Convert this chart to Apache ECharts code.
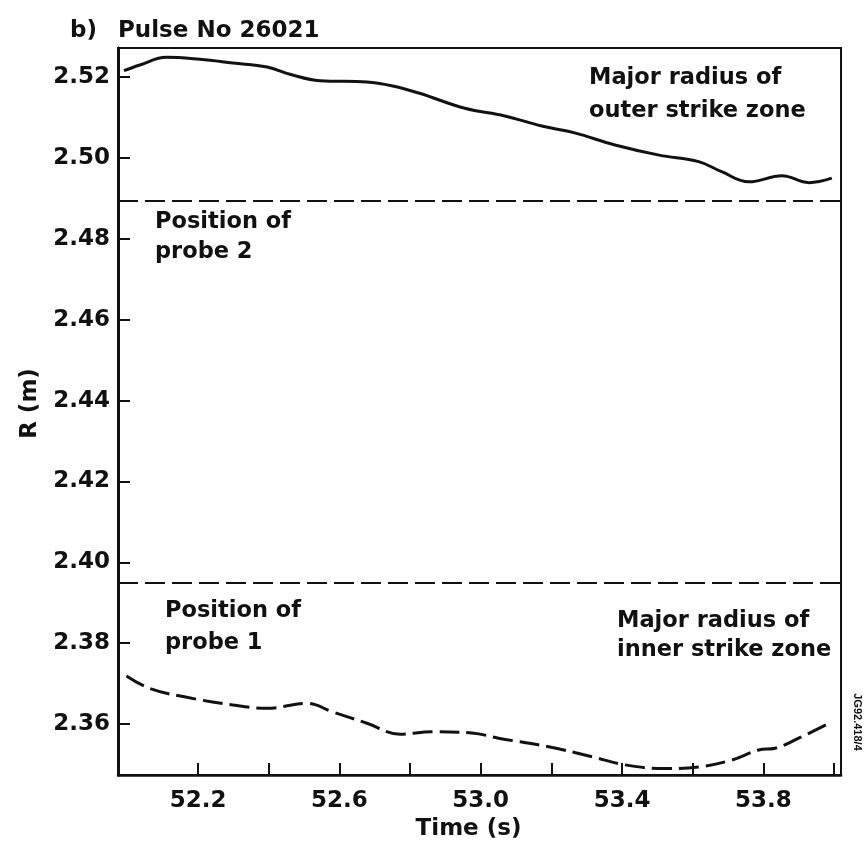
<!DOCTYPE html>
<html>
<head>
<meta charset="utf-8">
<title>Pulse No 26021 – strike zone radii</title>
<script src="https://cdn.jsdelivr.net/npm/echarts@6/dist/echarts.min.js"></script>
<style>
  html, body { margin: 0; padding: 0; background: #ffffff; }
  #chart { width: 864px; height: 849px; }
</style>
</head>
<body>
<div id="chart"></div>
<script>
// Major radius of the outer strike zone, R (m) against time (s)
const outerTime = [51.990, 52.035, 52.110, 52.205, 52.298, 52.395, 52.460, 52.545, 52.678, 52.751,
                   52.827, 52.955, 53.068, 53.173, 53.266, 53.380, 53.505, 53.617, 53.682, 53.759,
                   53.853, 53.929, 53.994];
const outerR    = [2.5216, 2.5230, 2.5249, 2.5244, 2.5235, 2.5225, 2.5207, 2.5191, 2.5188, 2.5178,
                   2.5160, 2.5123, 2.5104, 2.5079, 2.5062, 2.5032, 2.5007, 2.4991, 2.4966, 2.4941,
                   2.4956, 2.4939, 2.4950];

// Major radius of the inner strike zone
const innerTime = [51.997, 52.063, 52.157, 52.298, 52.395, 52.508, 52.581, 52.678, 52.771, 52.862,
                   52.975, 53.050, 53.192, 53.315, 53.409, 53.522, 53.617, 53.711, 53.787, 53.833,
                   53.900, 53.988];
const innerR    = [2.3719, 2.3688, 2.3668, 2.3647, 2.3639, 2.3651, 2.3630, 2.3602, 2.3575, 2.3581,
                   2.3578, 2.3565, 2.3544, 2.3519, 2.3499, 2.3490, 2.3494, 2.3511, 2.3536, 2.3540,
                   2.3565, 2.3603];

// Fixed probe positions (m)
const probe2R = 2.4895;
const probe1R = 2.3950;

// Axis ticks and labels
const timeTicks  = [52.2, 52.4, 52.6, 52.8, 53.0, 53.2, 53.4, 53.6, 53.8, 54.0];
const timeLabels = [52.2, 52.6, 53.0, 53.4, 53.8];
const rTicks     = [2.36, 2.38, 2.40, 2.42, 2.44, 2.46, 2.48, 2.50, 2.52];

const FONT = '"DejaVu Sans", Verdana, sans-serif';
const INK = '#111111';

const zip = (xs, ys) => xs.map((x, i) => [x, ys[i]]);

const chart = echarts.init(document.getElementById('chart'), null, { renderer: 'canvas' });

const annotation = (x, y, text, lineHeight) => ({
  type: 'text', x: x, y: y, silent: true,
  style: {
    text: text, fill: INK, font: 'bold 22.5px ' + FONT,
    lineHeight: lineHeight, textAlign: 'left', textVerticalAlign: 'top'
  }
});

chart.setOption({
  backgroundColor: '#ffffff',
  animation: false,
  grid: {
    left: 118, right: 23, top: 48, bottom: 74,
    show: true, borderColor: INK, borderWidth: 2,
    containLabel: false, outerBoundsMode: 'none'
  },
  xAxis: {
    type: 'value', min: 51.973, max: 54.02,
    name: 'Time (s)', nameLocation: 'middle', nameGap: 42,
    nameTextStyle: { color: INK, fontFamily: FONT, fontWeight: 'bold', fontSize: 23,
                     padding: [0, 22, 0, 0] },
    axisLine: { show: true, lineStyle: { color: INK, width: 2.5 } },
    axisTick: { show: true, inside: true, length: 12, customValues: timeTicks,
                lineStyle: { color: INK, width: 2 } },
    axisLabel: { show: true, customValues: timeLabels, margin: 15,
                 color: INK, fontFamily: FONT, fontWeight: 'bold', fontSize: 23,
                 formatter: v => v.toFixed(1) },
    splitLine: { show: false }
  },
  yAxis: {
    type: 'value', min: 2.3474, max: 2.5272,
    name: 'R (m)', nameLocation: 'middle', nameGap: 76,
    nameTextStyle: { color: INK, fontFamily: FONT, fontWeight: 'bold', fontSize: 23,
                     padding: [0, 0, 0, 16] },
    axisLine: { show: true, lineStyle: { color: INK, width: 3 } },
    axisTick: { show: true, inside: true, length: 12, customValues: rTicks,
                lineStyle: { color: INK, width: 2 } },
    axisLabel: { show: true, customValues: rTicks, margin: 8,
                 color: INK, fontFamily: FONT, fontWeight: 'bold', fontSize: 23,
                 formatter: v => v.toFixed(2) },
    splitLine: { show: false }
  },
  series: [
    {
      name: 'Outer strike zone', type: 'line', smooth: 0.4, symbol: 'none',
      data: zip(outerTime, outerR),
      lineStyle: { color: INK, width: 3 },
      markLine: {
        silent: true, symbol: 'none', precision: 4, label: { show: false },
        lineStyle: { color: INK, width: 2, type: [20, 7] },
        data: [{ yAxis: probe2R }, { yAxis: probe1R }]
      }
    },
    {
      name: 'Inner strike zone', type: 'line', smooth: 0.4, symbol: 'none',
      data: zip(innerTime, innerR),
      lineStyle: { color: INK, width: 3, type: [20, 7] }
    }
  ],
  graphic: [
    { type: 'text', x: 70, y: 20, silent: true,
      style: { text: 'b)', fill: INK, font: 'bold 23px ' + FONT } },
    { type: 'text', x: 118, y: 20, silent: true,
      style: { text: 'Pulse No 26021', fill: INK, font: 'bold 23px ' + FONT } },
    annotation(589, 62, 'Major radius of\nouter strike zone', 33),
    annotation(155, 207, 'Position of\nprobe 2', 30),
    annotation(165, 595, 'Position of\nprobe 1', 32),
    annotation(617, 607, 'Major radius of\ninner strike zone', 29),
    { type: 'text', x: 857, y: 722, rotation: -Math.PI / 2, silent: true,
      style: { text: 'JG92.418/4', fill: INK, font: 'bold 11px "Liberation Sans", Arial, sans-serif',
               textAlign: 'center', textVerticalAlign: 'middle' } }
  ]
});
</script>
</body>
</html>
